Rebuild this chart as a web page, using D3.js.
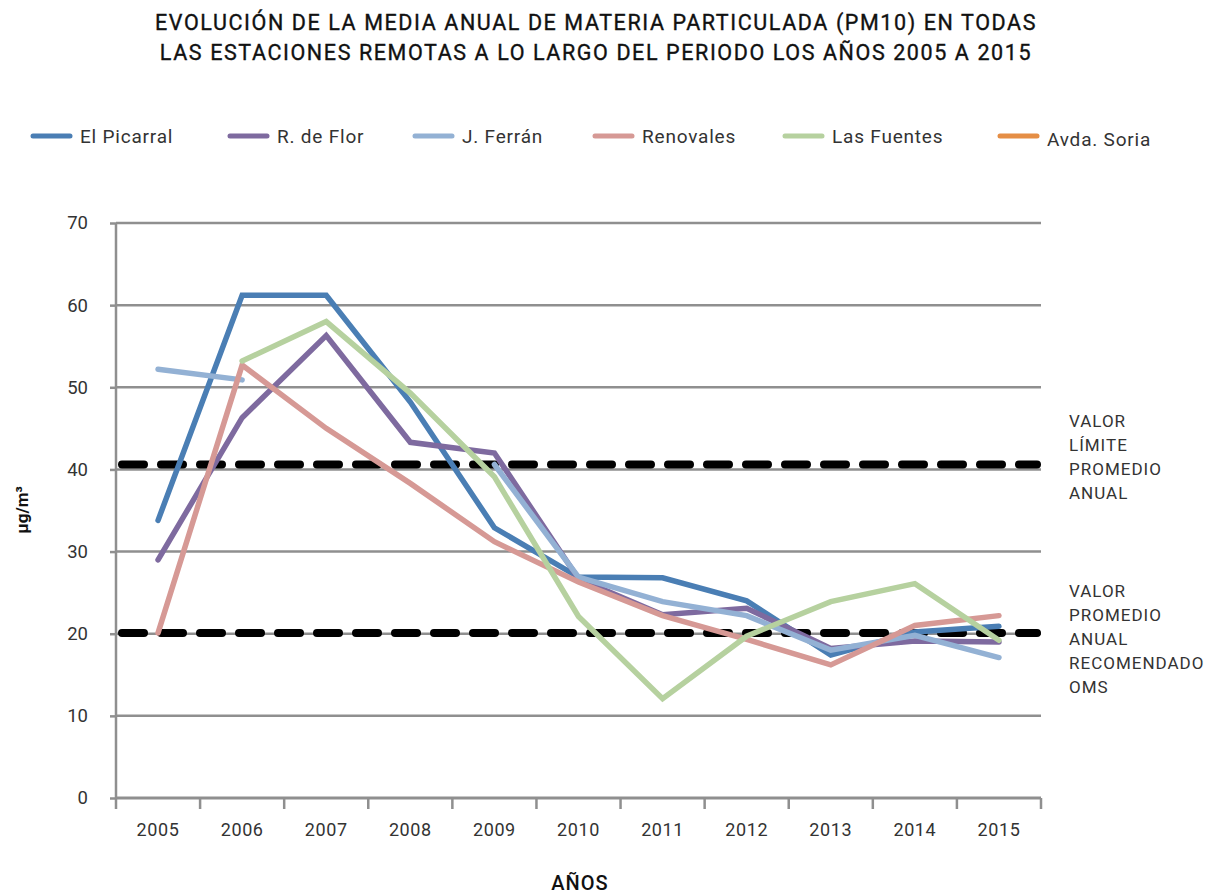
<!DOCTYPE html>
<html><head><meta charset="utf-8">
<script src="https://cdn.jsdelivr.net/npm/d3@7"></script>
<style>body{margin:0;background:#fff}</style>
</head><body><svg id="c" width="1220" height="896"></svg>
<script>
const years = ["2005","2006","2007","2008","2009","2010","2011","2012","2013","2014","2015"];
const yTicks = [0,10,20,30,40,50,60,70];
const elPicarral = [33.8,61.2,61.2,48.2,32.9,26.9,26.8,24.0,17.4,20.2,20.9];
const rDeFlor    = [29.0,46.3,56.3,43.3,42.0,26.7,22.3,23.1,18.2,19.1,19.0];
const jFerran    = [52.2,50.9,null,null,40.6,26.9,23.9,22.2,18.0,19.8,17.1];
const renovales  = [20.1,52.7,45.0,38.3,31.2,26.3,22.2,19.3,16.2,21.0,22.2];
const lasFuentes = [null,53.2,58.0,49.3,39.1,22.1,12.1,19.7,23.9,26.1,19.2];
const avdaSoria  = [null,null,null,null,null,null,null,null,null,null,null];
const seriesNames = ["El Picarral","R. de Flor","J. Ferrán","Renovales","Las Fuentes","Avda. Soria"];
const seriesColors = ["#4a7eb4","#7e6a9f","#93b1d4","#d69995","#b6d19f","#e58e45"];
const seriesData = [elPicarral,rDeFlor,jFerran,renovales,lasFuentes,avdaSoria];
const limitValues = [40.6,20.1];
const limitLabels = [["VALOR","LÍMITE","PROMEDIO","ANUAL"],["VALOR","PROMEDIO","ANUAL","RECOMENDADO","OMS"]];
const titleLines = ["EVOLUCIÓN DE LA MEDIA ANUAL DE MATERIA PARTICULADA (PM10) EN TODAS","LAS ESTACIONES REMOTAS A LO LARGO DEL PERIODO LOS AÑOS 2005 A 2015"];

const svg = d3.select("#c");
const font = "Roboto, 'Open Sans', sans-serif";
const L=116, R=1041, T=223, B=798;
const x = d3.scaleBand().domain(years).range([L,R]).padding(0);
const y = d3.scaleLinear().domain([0,70]).range([B,T]);
const cx = d => x(d)+x.bandwidth()/2;

// title
svg.append("g").selectAll("text").data(titleLines).join("text")
  .attr("x",596).attr("y",(d,i)=>30+i*30).attr("text-anchor","middle")
  .attr("font-family",font).attr("font-size",21.5).attr("font-weight",400)
  .attr("letter-spacing",1.6).attr("fill","#111").attr("stroke","#111").attr("stroke-width",0.35)
  .text(d=>d);

// legend
const legX = [33,230,415,595,785,1000];
const leg = svg.append("g").selectAll("g").data(seriesNames).join("g");
leg.append("line").attr("x1",(d,i)=>legX[i]).attr("x2",(d,i)=>legX[i]+37)
  .attr("y1",136).attr("y2",136).attr("stroke",(d,i)=>seriesColors[i])
  .attr("stroke-width",5).attr("stroke-linecap","round");
leg.append("text").attr("x",(d,i)=>legX[i]+47).attr("y",(d,i)=>i===5?146:143)
  .attr("font-family",font).attr("font-size",19).attr("letter-spacing",0.8)
  .attr("fill","#333").text(d=>d);

// grid
svg.append("g").selectAll("line").data(yTicks.filter(t=>t>0)).join("line")
  .attr("x1",L).attr("x2",R).attr("y1",d=>y(d)).attr("y2",d=>y(d))
  .attr("stroke","#8f8f8f").attr("stroke-width",2.5);

// y axis
const ya = svg.append("g").attr("transform",`translate(${L},0)`)
  .call(d3.axisLeft(y).tickValues(yTicks).tickSize(6).tickPadding(22));
ya.select(".domain").attr("stroke","#8f8f8f").attr("stroke-width",2.5).attr("d",`M0,${T}V${B}`);
ya.selectAll(".tick line").attr("stroke","#8f8f8f").attr("stroke-width",2.5);
ya.selectAll(".tick text").attr("font-family",font).attr("font-size",18.5).attr("fill","#333");

// x axis
const xa = svg.append("g").attr("transform",`translate(0,${B})`)
  .call(d3.axisBottom(x).tickSize(0).tickPadding(25));
xa.select(".domain").attr("stroke","#8f8f8f").attr("stroke-width",3).attr("d",`M${L},0H${R}`);
xa.selectAll(".tick text").attr("font-family",font).attr("font-size",18).attr("letter-spacing",0.6).attr("fill","#333");
const bounds = years.map(d=>x(d)).concat([R]);
xa.append("g").selectAll("line").data(bounds).join("line")
  .attr("x1",d=>d).attr("x2",d=>d).attr("y1",0).attr("y2",11)
  .attr("stroke","#8f8f8f").attr("stroke-width",2.5);

// limit lines
svg.append("g").selectAll("line").data(limitValues).join("line")
  .attr("x1",L+6).attr("x2",R-4).attr("y1",d=>y(d)).attr("y2",d=>y(d))
  .attr("stroke","#000").attr("stroke-width",8).attr("stroke-linecap","round")
  .attr("stroke-dasharray","22,17");

// series
const line = d3.line().defined(d=>d.v!=null).x(d=>cx(d.k)).y(d=>y(d.v));
svg.append("g").selectAll("path").data(seriesData).join("path")
  .attr("d",s=>line(s.map((v,i)=>({k:years[i],v}))))
  .attr("fill","none").attr("stroke",(d,i)=>seriesColors[i])
  .attr("stroke-width",5.5).attr("stroke-linecap","round").attr("stroke-linejoin","miter");

// annotations
const annY = [421,591];
limitLabels.forEach((lines,j)=>{
  svg.append("g").selectAll("text").data(lines).join("text")
    .attr("x",1069).attr("y",(d,i)=>annY[j]+6+i*24)
    .attr("font-family",font).attr("font-size",17).attr("letter-spacing",1).attr("fill","#333").text(d=>d);
});

// axis titles
svg.append("text").attr("transform","translate(28,510) rotate(-90)").attr("text-anchor","middle")
  .attr("font-family",font).attr("font-size",17).attr("font-weight",700).attr("fill","#111").text("µg/m³");
svg.append("text").attr("x",580).attr("y",890).attr("text-anchor","middle")
  .attr("font-family",font).attr("font-size",20).attr("font-weight",500).attr("letter-spacing",1).attr("fill","#111").text("AÑOS");
</script></body></html>
